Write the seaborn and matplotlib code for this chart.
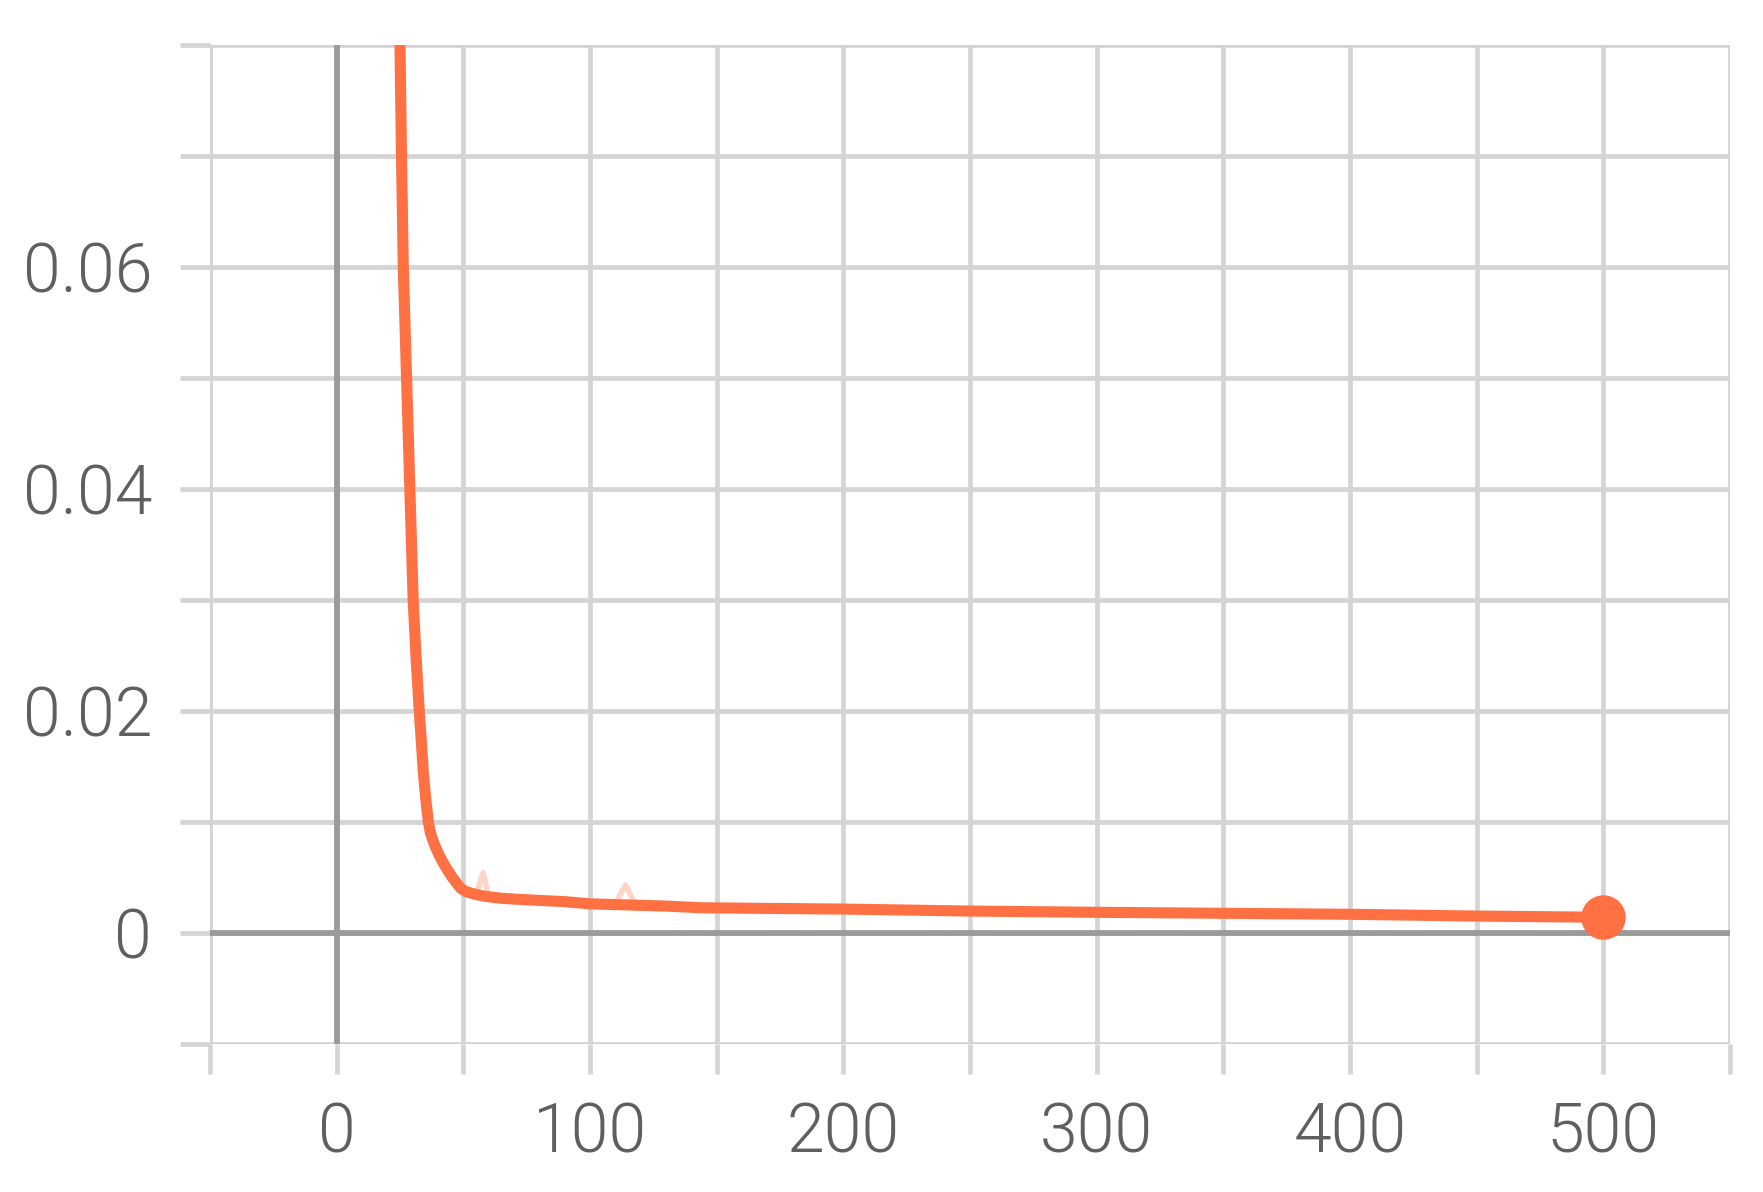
import matplotlib
matplotlib.use("Agg")
import matplotlib.pyplot as plt
import seaborn as sns

# Courbe lissee
steps = [23.5, 25, 25.6, 26.3, 27.6, 28.9, 30.2, 31.3, 32.6, 33.5, 34.2, 35.2,
         36.2, 37, 38.5, 40.4, 42.8, 45.6, 47.6, 49, 51, 54, 58, 65, 76.3, 90,
         100, 115, 130, 143.4, 165, 200, 250, 300, 350, 400, 450, 500]
loss = [0.09, 0.08, 0.07, 0.06, 0.05, 0.04, 0.03, 0.025, 0.02, 0.017, 0.0145,
        0.012, 0.01, 0.009, 0.008, 0.007, 0.006, 0.005, 0.0044, 0.004, 0.0037,
        0.0035, 0.0033, 0.0031, 0.00295, 0.0028, 0.0026, 0.0025, 0.0024,
        0.00225, 0.0022, 0.00213, 0.00195, 0.00184, 0.00175, 0.00166, 0.0015,
        0.00139]

# Valeurs brutes (petits pics visibles autour de la courbe)
raw_steps = [52, 55, 57.8, 60, 70, 80, 100, 110, 114, 118, 130, 200, 300, 400, 500]
raw_loss = [0.0036, 0.0034, 0.0054, 0.0033, 0.003, 0.0029, 0.0026, 0.0026,
            0.0043, 0.0025, 0.0024, 0.0022, 0.0019, 0.0017, 0.0014]

x_ticks = list(range(-50, 551, 50))
x_labels = [str(v) if v % 100 == 0 and v >= 0 and v <= 500 else "" for v in x_ticks]
y_ticks = [-0.01, 0, 0.01, 0.02, 0.03, 0.04, 0.05, 0.06, 0.07, 0.08]
y_labels = ["", "0", "", "0.02", "", "0.04", "", "0.06", "", ""]

ORANGE = "#ff7043"
GRILLE = "#d4d4d4"
ZERO = "#9a9a9a"

sns.set_theme(style="white")
plt.rcParams["font.family"] = ["Roboto", "DejaVu Sans"]

fig = plt.figure(figsize=(17.63, 11.92), dpi=100)
ax = fig.add_axes([0.1191, 0.1244, 0.8622, 0.8381])

ax.set_axisbelow(True)
ax.grid(True, color=GRILLE, linewidth=3.4)
ax.axhline(0, color=ZERO, linewidth=4.2, zorder=1.5)
ax.axvline(0, color=ZERO, linewidth=4.2, zorder=1.5)

sns.lineplot(x=raw_steps, y=raw_loss, ax=ax, color=ORANGE, alpha=0.3,
             linewidth=4, zorder=2)
sns.lineplot(x=steps, y=loss, ax=ax, color=ORANGE, linewidth=8, zorder=3)
ax.plot(steps[-1], loss[-1], "o", color=ORANGE, markersize=31, zorder=4)

ax.set_xlim(-50, 550)
ax.set_ylim(-0.01, 0.08)
ax.set_xticks(x_ticks)
ax.set_xticklabels(x_labels)
ax.set_yticks(y_ticks)
ax.set_yticklabels(y_labels)
ax.tick_params(axis="both", length=21.6, width=3.4, color=GRILLE, pad=20,
               labelsize=49, labelcolor="#5f5f5f", bottom=True, left=True)
for lab in ax.get_xticklabels() + ax.get_yticklabels():
    lab.set_fontweight(300)

for s in ax.spines.values():
    s.set_visible(False)

fig.savefig("out.png", dpi=100)
